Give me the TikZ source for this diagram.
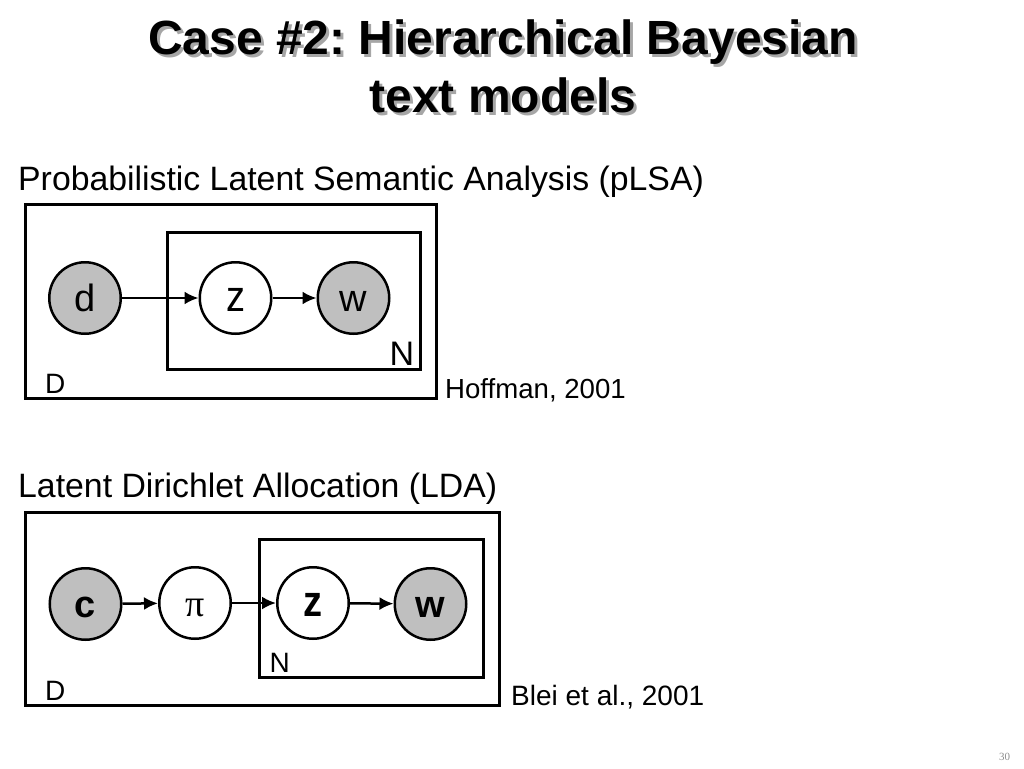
\documentclass[tikz,border=0pt]{standalone}
\usepackage{fontspec}
\setmainfont{Liberation Sans}
\newfontfamily\pgserif{Liberation Serif}
\usetikzlibrary{positioning,arrows.meta}
\tikzstyle{var}=[circle,draw=black,line width=2.5pt,fill=white,minimum size=71.5pt,inner sep=0pt,text height=26pt,text depth=0pt,font=\fontsize{38}{40}\selectfont]
\tikzstyle{obs}=[var,fill=black!25]
\tikzstyle{boldlbl}=[font=\fontsize{38}{40}\selectfont\bfseries]
\tikzstyle{plate}=[draw=black,line width=3pt]
\tikzstyle{arr}=[draw=black,line width=2.5pt,-{Latex[length=14pt,width=13pt]}]
\tikzstyle{ttl}=[inner sep=0pt,anchor=base,font=\fontsize{48}{56}\selectfont\bfseries]
\tikzstyle{lbl}=[inner sep=0pt,anchor=base west]
\newcommand{\tallz}{\scalebox{1}[1.15]{z}}
\newcommand{\shadowed}[1]{\makebox[0pt][l]{\hspace{3pt}\raisebox{-3pt}{\color{black!35}#1}}#1}
\frenchspacing
\begin{document}
\begin{tikzpicture}[x=1pt,y=-1pt]
\useasboundingbox (0,0) rectangle (1024,768);
% title
\node[ttl](title1)at(503,55){\shadowed{Case \#2: Hierarchical Bayesian}};
\node[ttl](title2)at(503,112){\shadowed{text models}};
% pLSA
\node[lbl,font=\fontsize{33.8}{40}\selectfont](plsa)at(18,190){Probabilistic Latent Semantic Analysis (pLSA)};
\draw[plate](25,204)rectangle(436,398);
\draw[plate](167,232)rectangle(420,369);
\node[obs](d)at(85,298){d};
\node[var](z1)at(235.5,298){\tallz};
\node[obs](w1)at(353.5,298){w};
\node[lbl,font=\fontsize{34}{40}\selectfont](n1)at(389.5,365){N};
\node[lbl,font=\fontsize{28}{32}\selectfont](d1)at(45,393){D};
\node[lbl,font=\fontsize{27.6}{32}\selectfont](cite1)at(445,398){Hoffman, 2001};
\draw[arr](d)--(z1);
\draw[arr](z1)--(w1);
% LDA
\node[lbl,font=\fontsize{33.8}{40}\selectfont](lda)at(18,497){Latent Dirichlet Allocation (LDA)};
\draw[plate](25,512)rectangle(499,705);
\draw[plate](259,539)rectangle(483,677);
\node[obs,boldlbl](c)at(85.5,604){c};
\node[var,font=\pgserif\fontsize{38}{40}\selectfont](pi)at(195,603){π};
\node[var,boldlbl](z2)at(313,603){\tallz};
\node[obs,boldlbl](w2)at(430.5,604){w};
\node[lbl,font=\fontsize{28}{32}\selectfont](n2)at(269.5,672){N};
\node[lbl,font=\fontsize{28}{32}\selectfont](d2)at(45,700){D};
\node[lbl,font=\fontsize{28}{32}\selectfont](cite2)at(511,705){Blei et al., 2001};
\draw[arr](c)--(pi);
\draw[arr](pi)--(z2);
\draw[arr](z2)--(w2);
% page number
\node[lbl,font=\pgserif\fontsize{11}{12}\selectfont,text=black!45](pg)at(999,760){30};
\end{tikzpicture}
\end{document}
